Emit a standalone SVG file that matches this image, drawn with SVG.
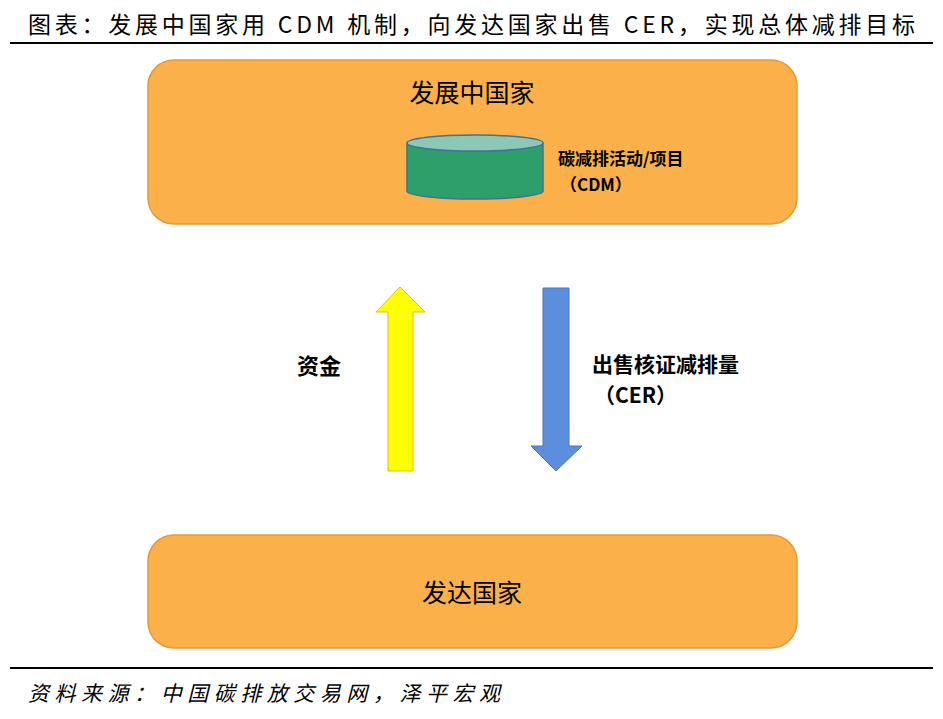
<svg xmlns="http://www.w3.org/2000/svg" width="943" height="719" viewBox="0 0 943 719">
<style>
.t{font-family:"Noto Sans CJK SC","Liberation Serif",serif;fill:#000}
.box{fill:#FBB04A;stroke:#E59A38;stroke-width:1.5}
</style>
<rect width="943" height="719" fill="#fff"/>
<text class="t" x="28" y="33" font-size="23" textLength="887" lengthAdjust="spacing">图表：发展中国家用 CDM 机制，向发达国家出售 CER，实现总体减排目标</text>
<line x1="10" y1="43" x2="933" y2="43" stroke="#000" stroke-width="2"/>
<g id="developing">
<rect class="box" x="148" y="60" width="649" height="164" rx="26"/>
<text class="t" x="472" y="102" font-size="25" text-anchor="middle">发展中国家</text>
</g>
<g id="cdm">
<path d="M407 143 V191 A68 8 0 0 0 543 191 V143" fill="#2E9E6A" stroke="#41719C" stroke-width="1.5"/>
<ellipse cx="475" cy="143" rx="68" ry="8" fill="#8CC8B4" stroke="#41719C" stroke-width="1.5"/>
<text class="t" x="558" y="165" font-size="17" font-weight="bold">碳减排活动/项目</text>
<text class="t" x="560" y="191" font-size="17" font-weight="bold">（CDM）</text>
</g>
<g id="developed">
<rect class="box" x="148" y="535" width="649" height="113" rx="26"/>
<text class="t" x="472" y="602" font-size="25" text-anchor="middle">发达国家</text>
</g>
<g id="connectors">
<polygon points="400,287 425,312 413,312 413,471 388,471 388,312 376,312" fill="#FFFF00" stroke="#E8C000" stroke-width="1"/>
<polygon points="543,288 569,288 569,446 582,446 556,471 531,446 543,446" fill="#5B8FDE" stroke="#4A78C0" stroke-width="1"/>
<text class="t" x="297" y="374" font-size="22" font-weight="bold">资金</text>
<text class="t" x="592" y="372" font-size="21" font-weight="bold">出售核证减排量</text>
<text class="t" x="594" y="403" font-size="21" font-weight="bold">（CER）</text>
</g>
<line x1="10" y1="668" x2="933" y2="668" stroke="#000" stroke-width="2"/>
<text class="t" x="28" y="701" font-size="21" font-style="italic" textLength="472" lengthAdjust="spacing">资料来源：中国碳排放交易网，泽平宏观</text>
</svg>
